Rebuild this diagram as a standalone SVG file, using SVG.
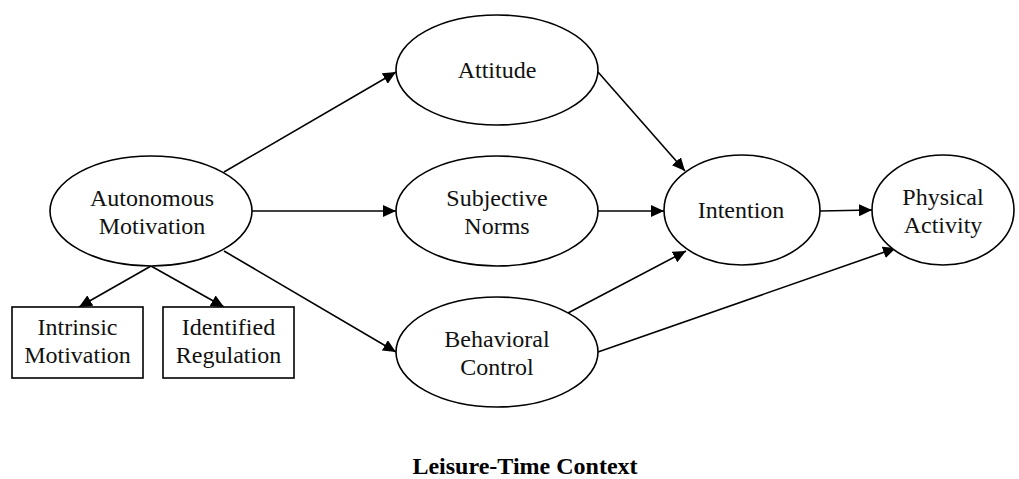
<svg xmlns="http://www.w3.org/2000/svg" width="1019" height="479" viewBox="0 0 1019 479">
<style>
.n{fill:#fff;stroke:#000;stroke-width:1.6}
.t{font-family:"Liberation Serif",serif;font-size:24px;fill:#111;text-anchor:middle}
.c line{stroke:#000;stroke-width:1.6;marker-end:url(#ah)}
.ttl{font-family:"Liberation Serif",serif;font-size:24px;font-weight:bold;text-anchor:middle}
</style>
<defs>
<marker id="ah" markerUnits="userSpaceOnUse" markerWidth="14" markerHeight="12" refX="13" refY="6" orient="auto">
<path d="M0,0 L13,6 L0,12 Z" fill="#000"/>
</marker>
</defs>
<rect width="1019" height="479" fill="#fff"/>
<g class="c">
<line x1="224" y1="172" x2="396" y2="72"/>
<line x1="252" y1="211" x2="396" y2="211"/>
<line x1="224" y1="251" x2="396" y2="352"/>
<line x1="151" y1="266" x2="79" y2="307"/>
<line x1="151" y1="266" x2="224" y2="307"/>
<line x1="598" y1="72" x2="685" y2="171"/>
<line x1="598" y1="211" x2="664" y2="211"/>
<line x1="568" y1="313" x2="686" y2="251"/>
<line x1="598" y1="352" x2="896" y2="248"/>
<line x1="820" y1="211" x2="872" y2="210"/>
</g>
<g id="autonomous"><ellipse class="n" cx="151" cy="211" rx="101" ry="55"/><text class="t" x="152" y="206">Autonomous</text><text class="t" x="152" y="234">Motivation</text></g>
<g id="intrinsic"><rect class="n" x="12" y="307" width="131" height="71"/><text class="t" x="77.5" y="335">Intrinsic</text><text class="t" x="77.5" y="363">Motivation</text></g>
<g id="identified"><rect class="n" x="163" y="307" width="131" height="71"/><text class="t" x="228.5" y="335">Identified</text><text class="t" x="228.5" y="363">Regulation</text></g>
<g id="attitude"><ellipse class="n" cx="497" cy="70" rx="101" ry="55"/><text class="t" x="497" y="78">Attitude</text></g>
<g id="norms"><ellipse class="n" cx="497" cy="211" rx="101" ry="55"/><text class="t" x="497" y="206">Subjective</text><text class="t" x="497" y="234">Norms</text></g>
<g id="control"><ellipse class="n" cx="497" cy="352" rx="101" ry="55"/><text class="t" x="497" y="347">Behavioral</text><text class="t" x="497" y="375">Control</text></g>
<g id="intention"><ellipse class="n" cx="742" cy="210" rx="78" ry="55"/><text class="t" x="741" y="218">Intention</text></g>
<g id="activity"><ellipse class="n" cx="943" cy="210" rx="71" ry="55"/><text class="t" x="943" y="205">Physical</text><text class="t" x="943" y="233">Activity</text></g>
<text class="ttl" x="525" y="474">Leisure-Time Context</text>
</svg>
